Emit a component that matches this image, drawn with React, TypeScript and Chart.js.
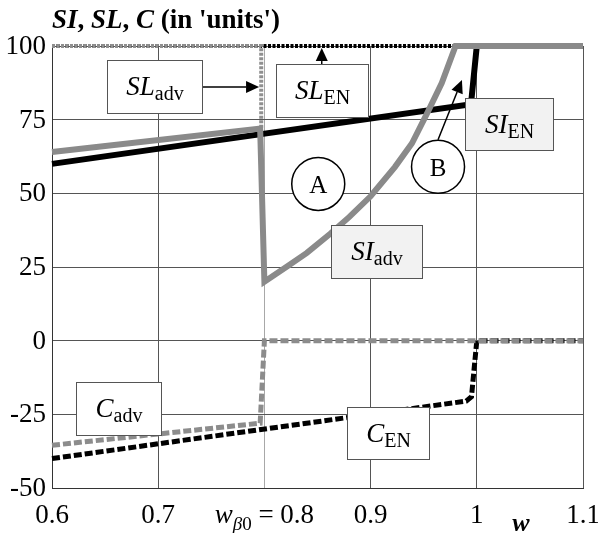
import React, { useEffect, useRef } from "react";
import { Chart, registerables } from "chart.js";

Chart.register(...registerables);

// ---- data ----
const xTicks = [0.6, 0.7, 0.8, 0.9, 1.0, 1.1];
const yTicks = [-50, -25, 0, 25, 50, 75, 100];

const siEnX = [0.6, 0.99, 0.995, 1.0, 1.1];
const siEnY = [60, 80, 82, 100, 100];

const siAdvX = [0.6, 0.796, 0.8, 0.822, 0.84, 0.862, 0.88, 0.9, 0.923, 0.939, 0.954, 0.967, 0.98, 1.1];
const siAdvY = [64, 72, 20, 25.3, 29.8, 36.3, 42, 49, 59, 67, 77.7, 87.4, 100, 100];

const slEnX = [0.6, 1.1];
const slEnY = [100, 100];

const slAdvX = [0.6, 0.797, 0.797];
const slAdvY = [100, 100, 72];

const cEnX = [0.6, 0.99, 0.995, 1.0, 1.1];
const cEnY = [-40, -20.5, -19, 0, 0];

const cAdvX = [0.6, 0.796, 0.8, 1.1];
const cAdvY = [-35.5, -28, 0, 0];

// ---- annotations (data coordinates) ----
type Box = { x1: number; x2: number; y1: number; y2: number; main: string; sub: string; fill: string };
const boxes: Box[] = [
  { x1: 0.652, x2: 0.741, y1: 95.3, y2: 77.3, main: "SL", sub: "adv", fill: "#ffffff" },
  { x1: 0.811, x2: 0.898, y1: 93.9, y2: 75.9, main: "SL", sub: "EN", fill: "#ffffff" },
  { x1: 0.989, x2: 1.072, y1: 82.4, y2: 64.7, main: "SI", sub: "EN", fill: "#f2f2f2" },
  { x1: 0.863, x2: 0.948, y1: 39.3, y2: 21.4, main: "SI", sub: "adv", fill: "#f2f2f2" },
  { x1: 0.623, x2: 0.703, y1: -13.9, y2: -31.9, main: "C", sub: "adv", fill: "#ffffff" },
  { x1: 0.878, x2: 0.955, y1: -22.4, y2: -40, main: "C", sub: "EN", fill: "#ffffff" },
];
const arrows = [
  { x1: 0.741, y1: 86.1, x2: 0.795, y2: 86.1 },
  { x1: 0.854, y1: 93.9, x2: 0.854, y2: 99.3 },
  { x1: 0.9635, y1: 68.2, x2: 0.986, y2: 88.5 },
];
const circles = [
  { x: 0.8507, y: 53.2, label: "A" },
  { x: 0.9635, y: 59.0, label: "B" },
];

const SERIF = '"Liberation Serif", "Times New Roman", serif';

function pts(xs: number[], ys: number[]) {
  return xs.map((x, i) => ({ x, y: ys[i] }));
}

type Run = { text: string; font: string; dy?: number };
function drawRuns(ctx: CanvasRenderingContext2D, runs: Run[], x: number, y: number, align: "left" | "center") {
  let total = 0;
  const widths = runs.map((r) => {
    ctx.font = r.font;
    const w = ctx.measureText(r.text).width;
    total += w;
    return w;
  });
  let cx = align === "center" ? x - total / 2 : x;
  ctx.textAlign = "left";
  ctx.textBaseline = "alphabetic";
  runs.forEach((r, i) => {
    ctx.font = r.font;
    ctx.fillText(r.text, cx, y + (r.dy || 0));
    cx += widths[i];
  });
}

function arrow(ctx: CanvasRenderingContext2D, x1: number, y1: number, x2: number, y2: number) {
  const ang = Math.atan2(y2 - y1, x2 - x1);
  const hl = 13;
  const hw = 6;
  const bx = x2 - hl * Math.cos(ang);
  const by = y2 - hl * Math.sin(ang);
  ctx.strokeStyle = "#000";
  ctx.lineWidth = 1.5;
  ctx.setLineDash([]);
  ctx.beginPath();
  ctx.moveTo(x1, y1);
  ctx.lineTo(bx, by);
  ctx.stroke();
  ctx.fillStyle = "#000";
  ctx.beginPath();
  ctx.moveTo(x2, y2);
  ctx.lineTo(bx + hw * Math.sin(ang), by - hw * Math.cos(ang));
  ctx.lineTo(bx - hw * Math.sin(ang), by + hw * Math.cos(ang));
  ctx.closePath();
  ctx.fill();
}

const overlay = {
  id: "overlay",
  afterDraw(chart: any) {
    const ctx: CanvasRenderingContext2D = chart.ctx;
    const xs = chart.scales.x;
    const ys = chart.scales.y;
    const area = chart.chartArea;
    ctx.save();
    ctx.fillStyle = "#000";

    // y tick labels
    ctx.font = `27px ${SERIF}`;
    ctx.textAlign = "right";
    ctx.textBaseline = "middle";
    yTicks.forEach((v) => {
      ctx.fillText(String(v), area.left - 6, ys.getPixelForValue(v) + 1);
    });

    // x tick labels
    const base = area.bottom + 35;
    xTicks.forEach((v) => {
      const px = xs.getPixelForValue(v);
      if (Math.abs(v - 0.8) < 1e-9) {
        drawRuns(
          ctx,
          [
            { text: "w", font: `italic 27px ${SERIF}` },
            { text: "β", font: `italic 19px ${SERIF}`, dy: 7 },
            { text: "0", font: `19px ${SERIF}`, dy: 7 },
            { text: " = 0.8", font: `27px ${SERIF}` },
          ],
          px,
          base,
          "center"
        );
      } else {
        const t = Math.abs(v - 1) < 1e-9 ? "1" : v.toFixed(1);
        drawRuns(ctx, [{ text: t, font: `27px ${SERIF}` }], px, base, "center");
      }
    });

    // axis title w
    drawRuns(ctx, [{ text: "w", font: `bold italic 26px ${SERIF}` }], 521, base + 8, "center");

    // chart title
    drawRuns(
      ctx,
      [
        { text: "SI", font: `bold italic 27px ${SERIF}` },
        { text: ", ", font: `bold 27px ${SERIF}` },
        { text: "SL", font: `bold italic 27px ${SERIF}` },
        { text: ", ", font: `bold 27px ${SERIF}` },
        { text: "C", font: `bold italic 27px ${SERIF}` },
        { text: " (in 'units')", font: `bold 27px ${SERIF}` },
      ],
      52,
      28,
      "left"
    );

    // arrows
    arrows.forEach((a) => {
      arrow(ctx, xs.getPixelForValue(a.x1), ys.getPixelForValue(a.y1), xs.getPixelForValue(a.x2), ys.getPixelForValue(a.y2));
    });

    // boxes
    boxes.forEach((b) => {
      const l = Math.round(xs.getPixelForValue(b.x1)) + 0.5;
      const r = Math.round(xs.getPixelForValue(b.x2)) + 0.5;
      const t = Math.round(ys.getPixelForValue(b.y1)) + 0.5;
      const bt = Math.round(ys.getPixelForValue(b.y2)) + 0.5;
      ctx.fillStyle = b.fill;
      ctx.fillRect(l, t, r - l, bt - t);
      ctx.strokeStyle = "#555";
      ctx.lineWidth = 1;
      ctx.strokeRect(l, t, r - l, bt - t);
      ctx.fillStyle = "#000";
      drawRuns(
        ctx,
        [
          { text: b.main, font: `italic 27px ${SERIF}` },
          { text: b.sub, font: `20px ${SERIF}`, dy: 5 },
        ],
        (l + r) / 2,
        (t + bt) / 2 + 8,
        "center"
      );
    });

    // circles
    circles.forEach((c) => {
      const cx = xs.getPixelForValue(c.x);
      const cy = ys.getPixelForValue(c.y);
      ctx.beginPath();
      ctx.arc(cx, cy, 26.5, 0, Math.PI * 2);
      ctx.fillStyle = "#fff";
      ctx.fill();
      ctx.strokeStyle = "#000";
      ctx.lineWidth = 1.5;
      ctx.stroke();
      ctx.fillStyle = "#000";
      drawRuns(ctx, [{ text: c.label, font: `25px ${SERIF}` }], cx, cy + 9, "center");
    });

    ctx.restore();
  },
};

export default function App() {
  const ref = useRef<HTMLCanvasElement>(null);
  useEffect(() => {
    const canvas = ref.current!;
    const chart = new Chart(canvas, {
      type: "line",
      data: {
        datasets: [
          {
            label: "SI_adv",
            data: pts(siAdvX, siAdvY),
            borderColor: "#8a8a8a",
            borderWidth: 6,
            borderJoinStyle: "miter",
            clip: false,
            order: 1,
          },
          {
            label: "SI_EN",
            data: pts(siEnX, siEnY),
            borderColor: "#000000",
            borderWidth: 6,
            clip: false,
            order: 2,
          },
          {
            label: "C_adv",
            data: pts(cAdvX, cAdvY),
            borderColor: "#8c8c8c",
            borderWidth: 5,
            borderDash: [8, 3],
            clip: false,
            order: 3,
          },
          {
            label: "C_EN",
            data: pts(cEnX, cEnY),
            borderColor: "#000000",
            borderWidth: 5,
            borderDash: [8, 3],
            clip: false,
            order: 4,
          },
          {
            label: "SL_adv",
            data: pts(slAdvX, slAdvY),
            borderColor: "#8f8f8f",
            borderWidth: 4,
            borderDash: [3, 1.5],
            borderCapStyle: "butt",
            clip: false,
            order: 5,
          },
          {
            label: "SL_EN",
            data: pts(slEnX, slEnY),
            borderColor: "#000000",
            borderWidth: 4,
            borderDash: [3, 1.5],
            borderCapStyle: "butt",
            clip: false,
            order: 6,
          },
        ] as any,
      },
      options: {
        animation: false,
        responsive: false,
        devicePixelRatio: 1,
        elements: { point: { radius: 0 }, line: { tension: 0, fill: false } },
        layout: { padding: { top: 46, right: 15, left: 0, bottom: 0 } },
        plugins: { legend: { display: false }, tooltip: { enabled: false }, title: { display: false } },
        scales: {
          x: {
            type: "linear",
            min: 0.6,
            max: 1.1,
            ticks: { stepSize: 0.1, display: false },
            grid: {
              drawTicks: false,
              lineWidth: 1,
              color: (c: any) => (Math.abs(c.tick.value - 0.8) < 1e-6 ? "#a8a8a8" : "#555555"),
            },
            border: { display: true, color: "#333", width: 1 },
            afterFit: (s: any) => {
              s.height = 45;
              s.paddingLeft = 0;
              s.paddingRight = 0;
              s.paddingTop = 0;
              s.paddingBottom = 0;
            },
          },
          y: {
            type: "linear",
            min: -50,
            max: 100,
            ticks: { stepSize: 25, display: false },
            grid: { drawTicks: false, lineWidth: 1, color: "#555555" },
            border: { display: true, color: "#333", width: 1 },
            afterFit: (s: any) => {
              s.width = 52;
              s.paddingLeft = 0;
              s.paddingRight = 0;
              s.paddingTop = 0;
              s.paddingBottom = 0;
            },
          },
        },
      } as any,
      plugins: [overlay],
    });
    return () => chart.destroy();
  }, []);
  return (
    <div style={{ position: "absolute", left: 0, top: 0, width: 598, height: 533, background: "#fff" }}>
      <canvas ref={ref} width={598} height={533} style={{ display: "block", width: 598, height: 533 }} />
    </div>
  );
}
